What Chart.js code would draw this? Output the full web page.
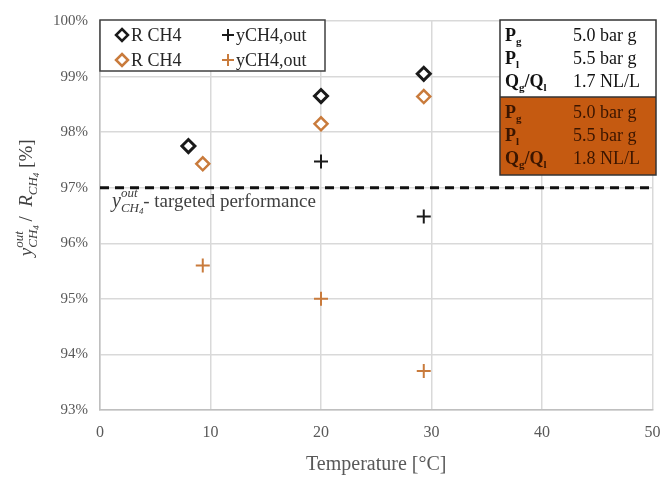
<!DOCTYPE html>
<html>
<head>
<meta charset="utf-8">
<script src="https://cdn.jsdelivr.net/npm/chart.js@4/dist/chart.umd.min.js"></script>
<style>
  html, body { margin: 0; padding: 0; background: #fff; }
  #wrap { width: 662px; height: 477px; position: relative; }
</style>
</head>
<body>
<div id="wrap"><canvas id="c"></canvas></div>
<script>
// data
const rBlackT = [8.0, 20.0, 29.3];
const rBlackV = [97.75, 98.65, 99.05];
const rOrangeT = [9.3, 20.0, 29.3];
const rOrangeV = [97.43, 98.15, 98.64];
const yBlackT = [20.0, 29.3];
const yBlackV = [97.47, 96.48];
const yOrangeT = [9.3, 20.0, 29.3];
const yOrangeV = [95.6, 95.0, 93.7];
const targetLine = 97;
const xTicks = [0, 10, 20, 30, 40, 50];
const yTicks = [93, 94, 95, 96, 97, 98, 99, 100];

const BLACK = "#1a1a1a";
const ORANGE = "#C97B3C";
const BOX_ORANGE = "#C55A11";
const SERIF = "'Liberation Serif', 'DejaVu Serif', serif";

const pts = (xs, ys) => xs.map((x, i) => ({ x: x, y: ys[i] }));

// draws a row of text pieces with their own font and vertical offset
function drawRuns(ctx, x, y, parts) {
  parts.forEach(p => {
    ctx.font = p.font;
    ctx.fillText(p.t, x, y + (p.dy || 0));
    x += ctx.measureText(p.t).width;
  });
  return x;
}
function runsWidth(ctx, parts) {
  let w = 0;
  parts.forEach(p => { ctx.font = p.font; w += ctx.measureText(p.t).width; });
  return w;
}

// y with "out" above and "CH4" below, returns end x
function yOut(ctx, x, y, big, small, tiny) {
  ctx.font = "italic " + big + "px " + SERIF; ctx.fillText("y", x, y);
  const yw = ctx.measureText("y").width;
  ctx.font = "italic " + small + "px " + SERIF;
  ctx.fillText("out", x + yw, y - big * 0.5);
  ctx.fillText("CH", x + yw, y + big * 0.25);
  const ow = ctx.measureText("out").width;
  const chw = ctx.measureText("CH").width;
  ctx.font = "italic " + tiny + "px " + SERIF;
  ctx.fillText("4", x + yw + chw, y + big * 0.35);
  return x + yw + ow;
}

const extras = {
  id: "extras",
  afterDraw(chart) {
    const ctx = chart.ctx;
    ctx.save();
    ctx.textBaseline = "alphabetic";
    ctx.textAlign = "left";

    // y-axis title, rotated
    const f = "19px " + SERIF;
    const rest = [
      { t: "  /  ", font: f },
      { t: "R", font: "italic 19px " + SERIF },
      { t: "CH", font: "italic 13px " + SERIF, dy: 5 },
      { t: "4", font: "italic 9px " + SERIF, dy: 7 },
      { t: " [%]", font: f }
    ];
    ctx.fillStyle = "#404040";
    ctx.translate(32, 197);
    ctx.rotate(-Math.PI / 2);
    ctx.font = "italic 13px " + SERIF;
    const headW = 10 + ctx.measureText("out").width;
    const tw = headW + runsWidth(ctx, rest);
    const hx = yOut(ctx, -tw / 2, 0, 19, 13, 9);
    drawRuns(ctx, hx, 0, rest);
    ctx.setTransform(1, 0, 0, 1, 0, 0);

    // target annotation
    ctx.fillStyle = "#404040";
    const ex = yOut(ctx, 112, 207, 20, 13, 9);
    ctx.font = "19px " + SERIF;
    ctx.fillText(" - targeted performance", ex + 1, 207);

    // legend box
    ctx.fillStyle = "#fff";
    ctx.fillRect(100, 20, 225, 51);
    ctx.strokeStyle = "#404040";
    ctx.lineWidth = 1.5;
    ctx.strokeRect(100, 20, 225, 51);
    const legendRows = [
      { c: BLACK, y: 35 }, { c: ORANGE, y: 60 }
    ];
    legendRows.forEach(r => {
      // diamond
      ctx.strokeStyle = r.c; ctx.lineWidth = 2.5;
      ctx.beginPath();
      ctx.moveTo(122, r.y - 6); ctx.lineTo(128, r.y); ctx.lineTo(122, r.y + 6); ctx.lineTo(116, r.y);
      ctx.closePath(); ctx.stroke();
      // cross
      ctx.lineWidth = 2;
      ctx.beginPath();
      ctx.moveTo(228, r.y - 6); ctx.lineTo(228, r.y + 6);
      ctx.moveTo(222, r.y); ctx.lineTo(234, r.y);
      ctx.stroke();
      ctx.fillStyle = "#262626";
      ctx.font = "18px " + SERIF;
      ctx.fillText("R CH4", 131, r.y + 6);
      ctx.fillText("yCH4,out", 236, r.y + 6);
    });

    // operating conditions box
    const bx = 500, bw = 156;
    ctx.fillStyle = "#fff"; ctx.fillRect(bx, 20, bw, 77);
    ctx.fillStyle = BOX_ORANGE; ctx.fillRect(bx, 97, bw, 78);
    ctx.strokeStyle = "#333"; ctx.lineWidth = 1.5;
    ctx.strokeRect(bx, 20, bw, 155);
    ctx.beginPath(); ctx.moveTo(bx, 97); ctx.lineTo(bx + bw, 97); ctx.stroke();
    const blocks = [
      { top: 20, vals: ["5.0 bar g", "5.5 bar g", "1.7 NL/L"], col: "#111" },
      { top: 97, vals: ["5.0 bar g", "5.5 bar g", "1.8 NL/L"], col: "#3a1500" }
    ];
    blocks.forEach(b => {
      ctx.fillStyle = b.col;
      const rows = [b.top + 21, b.top + 44, b.top + 67];
      const fb = "bold 18px " + SERIF, sub = "bold 11px " + SERIF;
      ctx.font = fb; ctx.fillText("P", bx + 5, rows[0]);
      let pw = ctx.measureText("P").width;
      ctx.font = sub; ctx.fillText("g", bx + 5 + pw, rows[0] + 4);
      ctx.font = fb; ctx.fillText("P", bx + 5, rows[1]);
      ctx.font = sub; ctx.fillText("l", bx + 5 + pw, rows[1] + 4);
      ctx.font = fb; ctx.fillText("Q", bx + 5, rows[2]);
      let qw = ctx.measureText("Q").width;
      ctx.font = sub; ctx.fillText("g", bx + 5 + qw, rows[2] + 4);
      let gw = ctx.measureText("g").width;
      ctx.font = fb; ctx.fillText("/Q", bx + 5 + qw + gw, rows[2]);
      let sw = ctx.measureText("/Q").width;
      ctx.font = sub; ctx.fillText("l", bx + 5 + qw + gw + sw, rows[2] + 4);
      ctx.font = "18px " + SERIF;
      ctx.fillText(b.vals[0], bx + 73, rows[0]);
      ctx.fillText(b.vals[1], bx + 73, rows[1]);
      ctx.fillText(b.vals[2], bx + 73, rows[2]);
    });
    ctx.restore();
  }
};

new Chart(document.getElementById("c"), {
  type: "scatter",
  data: {
    datasets: [
      {
        label: "R CH4", data: pts(rBlackT, rBlackV),
        pointStyle: "rectRot", pointRadius: 6.5, borderColor: BLACK, backgroundColor: "#fff", borderWidth: 3
      },
      {
        label: "R CH4", data: pts(rOrangeT, rOrangeV),
        pointStyle: "rectRot", pointRadius: 6.5, borderColor: ORANGE, backgroundColor: "#fff", borderWidth: 2.5
      },
      {
        label: "yCH4,out", data: pts(yBlackT, yBlackV),
        pointStyle: "cross", pointRadius: 7, borderColor: BLACK, borderWidth: 2
      },
      {
        label: "yCH4,out", data: pts(yOrangeT, yOrangeV),
        pointStyle: "cross", pointRadius: 7, borderColor: ORANGE, borderWidth: 2
      },
      {
        type: "line", label: "target",
        data: [{ x: xTicks[0], y: targetLine }, { x: xTicks[xTicks.length - 1], y: targetLine }],
        borderColor: "#111", borderWidth: 3, borderDash: [9, 6], pointRadius: 0, fill: false
      }
    ]
  },
  options: {
    responsive: true,
    maintainAspectRatio: false,
    animation: false,
    layout: { padding: { top: 21, right: 6, left: 0, bottom: 0 } },
    plugins: { legend: { display: false }, tooltip: { enabled: false } },
    scales: {
      x: {
        type: "linear", min: 0, max: 50,
        afterBuildTicks: s => { s.ticks = xTicks.map(v => ({ value: v })); },
        afterFit: s => {
          s.height = 67;
          // let the "50" label run off the edge like in the original
          s.getPadding = () => ({ left: 0, top: 0, right: 0, bottom: 0 });
        },
        grid: { color: "#d9d9d9", lineWidth: 1.5, drawTicks: false },
        border: { color: "#bfbfbf", width: 1.5 },
        ticks: { color: "#595959", font: { family: SERIF, size: 16 }, padding: 13 },
        title: { display: true, text: "Temperature [°C]", color: "#595959", font: { family: SERIF, size: 20 }, padding: { top: 2, bottom: 0 } }
      },
      y: {
        min: 93, max: 100,
        afterBuildTicks: s => { s.ticks = yTicks.map(v => ({ value: v })); },
        afterFit: s => { s.width = 100; },
        grid: { color: "#d9d9d9", lineWidth: 1.5, drawTicks: false },
        border: { color: "#bfbfbf", width: 1.5 },
        ticks: { color: "#595959", font: { family: SERIF, size: 15 }, padding: 12, callback: v => v + "%" }
      }
    }
  },
  plugins: [extras]
});
</script>
</body>
</html>
